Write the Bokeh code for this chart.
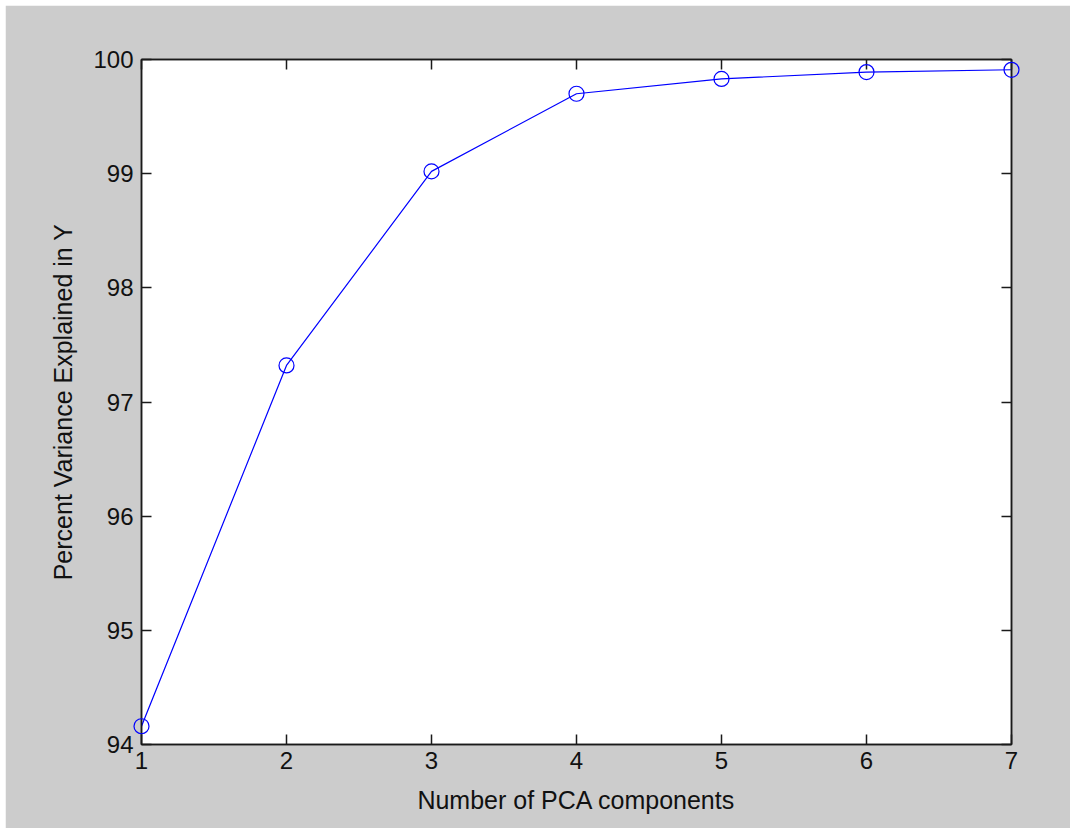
from bokeh.plotting import figure
from bokeh.models import Range1d, FixedTicker, LinearAxis, CustomJSTickFormatter, Spacer
from bokeh.layouts import column, row
from bokeh.embed import file_html
from bokeh.resources import INLINE

components = [1, 2, 3, 4, 5, 6, 7]
variance = [94.16, 97.32, 99.02, 99.70, 99.83, 99.89, 99.91]
x_ticks = [1, 2, 3, 4, 5, 6, 7]
y_ticks = [94, 95, 96, 97, 98, 99, 100]

GRAY = "#cccccc"
FONT = "Liberation Sans"

p = figure(width=1065, height=823, output_backend="svg", toolbar_location=None,
           x_range=Range1d(1, 7), y_range=Range1d(94, 100),
           background_fill_color="white", border_fill_color=GRAY,
           min_border_left=136, min_border_right=59, min_border_top=54, min_border_bottom=84)
p.grid.visible = False
p.outline_line_color = "#1a1a1a"
p.outline_line_width = 1.5

p.line(components, variance, line_color="#0000ff", line_width=1.2)
p.scatter(components, variance, marker="circle", size=15, fill_color=None,
          line_color="#0000ff", line_width=1.2, level="overlay")

def style(ax, ticks, labels=True):
    ax.ticker = FixedTicker(ticks=ticks)
    ax.minor_tick_line_color = None
    ax.major_tick_in = 10
    ax.major_tick_out = 0
    ax.major_tick_line_color = "#1a1a1a"
    ax.major_tick_line_width = 1.5
    ax.axis_line_color = "#1a1a1a"
    ax.axis_line_width = 1.5
    ax.major_label_text_font = FONT
    ax.major_label_text_font_size = "24px"
    ax.major_label_text_color = "#111111"
    ax.axis_label_text_font = FONT
    ax.axis_label_text_font_size = "25px"
    ax.axis_label_text_font_style = "normal"
    ax.axis_label_text_color = "#111111"
    if not labels:
        ax.formatter = CustomJSTickFormatter(code="return ''")
        ax.major_label_standoff = 0

style(p.xaxis[0], x_ticks)
style(p.yaxis[0], y_ticks)
p.xaxis[0].axis_label = "Number of PCA components"
p.yaxis[0].axis_label = "Percent Variance Explained in Y"
p.xaxis[0].major_label_standoff = 7
p.yaxis[0].major_label_standoff = 8
p.xaxis[0].axis_label_standoff = 14
p.yaxis[0].axis_label_standoff = 13

top = LinearAxis()
right = LinearAxis()
style(top, x_ticks, labels=False)
style(right, y_ticks, labels=False)
p.add_layout(top, "above")
p.add_layout(right, "right")

layout = column(Spacer(height=5), row(Spacer(width=5), p), spacing=0)
open("out.html", "w").write(file_html(layout, INLINE))
